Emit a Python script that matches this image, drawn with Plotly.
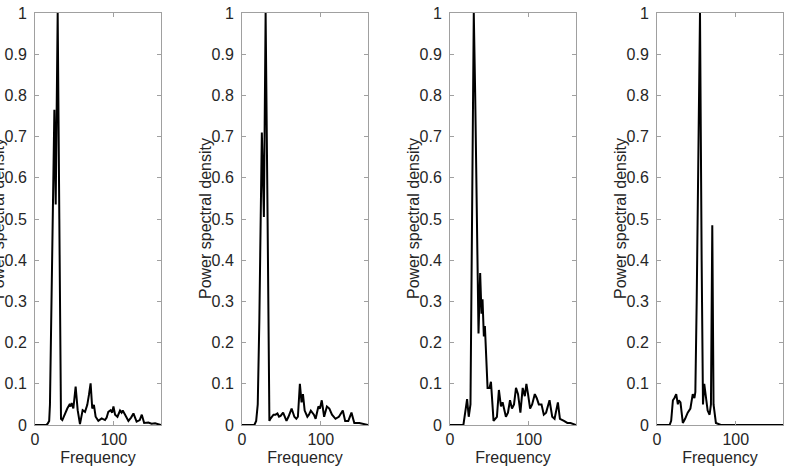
import plotly.graph_objects as go

# Frequency / normalised PSD
freq_a = [0, 14, 16, 18, 19, 21.2, 23.3, 24.6, 26.3, 28.8, 30.9, 33, 34.7, 36.5, 39.4, 41, 43.6,
          45, 46.5, 48.7, 51.6, 54.2, 57.1, 60.5, 63.5, 66.4, 68.5, 70.6, 72.7, 74.8, 77, 80.4,
          84.7, 88.9, 91, 93.1, 96.1, 98, 99.6, 101.7, 104.7, 108, 110, 111.4, 114.4, 118.6,
          122, 125, 129, 133, 135.6, 138.6, 144, 148, 152.5, 156, 160]
psd_a = [0, 0, 0.003, 0.01, 0.05, 0.3, 0.63, 0.765, 0.535, 1.0, 0.5, 0.015, 0.012, 0.02, 0.036,
         0.04, 0.049, 0.045, 0.053, 0.04, 0.093, 0.036, 0.002, 0.036, 0.032, 0.049, 0.073, 0.101,
         0.04, 0.049, 0.02, 0.01, 0.016, 0.012, 0.018, 0.032, 0.036, 0.03, 0.045, 0.025, 0.02,
         0.035, 0.03, 0.035, 0.025, 0.01, 0.018, 0.028, 0.008, 0.012, 0.025, 0.005, 0.006, 0.003,
         0.004, 0.002, 0]

freq_b = [0, 15.7, 18, 20, 22, 23.5, 25.2, 27.8, 30, 32.5, 34.8, 36, 38, 40, 42.6, 45, 47, 49,
          52.2, 54, 56.5, 59, 63, 66.5, 69, 71, 73.5, 75.6, 77.4, 79.6, 83, 85, 87.4, 91.3, 93.5,
          97, 99, 101.3, 104.3, 107.8, 110.9, 114.3, 118.7, 123, 128, 131, 135, 139, 142.6, 149,
          155.6, 160]
psd_b = [0, 0, 0.01, 0.05, 0.25, 0.5, 0.71, 0.505, 1.0, 0.5, 0.01, 0.015, 0.02, 0.025, 0.025,
         0.028, 0.02, 0.022, 0.03, 0.02, 0.01, 0.02, 0.04, 0.02, 0.015, 0.02, 0.1, 0.055, 0.075,
         0.035, 0.02, 0.025, 0.035, 0.025, 0.015, 0.045, 0.04, 0.06, 0.02, 0.045, 0.04, 0.025,
         0.015, 0.02, 0.035, 0.01, 0.01, 0.03, 0.005, 0.005, 0.003, 0]

freq_c = [0, 17, 20, 21.7, 23.8, 26, 28, 30.2, 32, 34, 36.2, 38.3, 40, 41.3, 43, 44.3, 46, 47.7,
          50.2, 52, 55.3, 57.4, 59.6, 62.1, 64.7, 66.8, 69, 71, 73.6, 76.2, 78.7, 81.3, 83.8,
          86.4, 89.4, 92.3, 95, 97, 99.1, 101.7, 104.3, 107.7, 110.2, 112.8, 116.2, 119.1, 122,
          126.4, 129.8, 132.8, 137, 139.6, 144.7, 149, 153, 160]
psd_c = [0, 0, 0.04, 0.063, 0.02, 0.05, 0.5, 1.0, 0.8, 0.5, 0.222, 0.369, 0.27, 0.305, 0.215,
         0.24, 0.17, 0.09, 0.09, 0.105, 0.01, 0.015, 0.02, 0.085, 0.045, 0.055, 0.04, 0.02, 0.03,
         0.06, 0.04, 0.05, 0.09, 0.075, 0.03, 0.09, 0.07, 0.1, 0.075, 0.04, 0.05, 0.075, 0.065,
         0.05, 0.05, 0.025, 0.03, 0.06, 0.02, 0.015, 0.055, 0.015, 0.01, 0.005, 0.005, 0]

freq_d = [0, 16, 18, 20.2, 22, 24.4, 26.5, 27.7, 29.8, 31.5, 32.8, 35.7, 39, 42.4, 45.4, 47.5,
          48.7, 50.4, 52.5, 54.6, 56.7, 58.4, 60, 62.2, 64.3, 66.8, 68.5, 70.2, 71.8, 74.8, 81,
          100, 130, 160]
psd_d = [0, 0, 0.01, 0.06, 0.065, 0.075, 0.05, 0.06, 0.055, 0.02, 0.005, 0.015, 0.03, 0.04,
         0.075, 0.065, 0.08, 0.3, 0.7, 1.0, 0.4, 0.05, 0.1, 0.06, 0.035, 0.025, 0.05, 0.485,
         0.05, 0.005, 0, 0, 0, 0]

panels = [(freq_a, psd_a), (freq_b, psd_b), (freq_c, psd_c), (freq_d, psd_d)]

y_ticks = [0, 0.1, 0.2, 0.3, 0.4, 0.5, 0.6, 0.7, 0.8, 0.9, 1]
y_labels = ["0", "0.1", "0.2", "0.3", "0.4", "0.5", "0.6", "0.7", "0.8", "0.9", "1"]
x_ticks = [0, 100]

W, H = 790, 474
left_px = [35, 242, 450, 657]
plot_w = 126
top_px, bottom_px = 13, 425

txt = "#262626"
axc = "#a0a0a0"
font = dict(family="Liberation Sans, Arial, sans-serif", size=16, color=txt)

fig = go.Figure()
layout = {}
notes = []
for i, (f, p) in enumerate(panels):
    n = "" if i == 0 else str(i + 1)
    fig.add_trace(go.Scatter(x=f, y=p, mode="lines", line=dict(color="black", width=2),
                             xaxis="x" + n, yaxis="y" + n, showlegend=False, hoverinfo="skip"))
    layout["xaxis" + n] = dict(
        domain=[left_px[i] / W, (left_px[i] + plot_w) / W], anchor="y" + n,
        range=[0, 160], tickvals=x_ticks, ticks="inside", ticklen=4, tickcolor=axc,
        showline=True, linecolor=axc, linewidth=1, mirror="ticks", showgrid=False,
        zeroline=False, tickfont=font, title=dict(text="Frequency", font=font, standoff=4),
        ticklabelstandoff=0, automargin=False,
    )
    layout["yaxis" + n] = dict(
        domain=[(H - bottom_px) / H, (H - top_px) / H], anchor="x" + n,
        range=[0, 1], tickvals=y_ticks, ticktext=y_labels, ticks="inside", ticklen=4,
        tickcolor=axc, showline=True, linecolor=axc, linewidth=1, mirror="ticks",
        showgrid=False, zeroline=False, tickfont=font,
        ticklabelstandoff=4, automargin=False,
    )
    # y title as a rotated label so it can sit where the original has it
    notes.append(dict(
        text="Power spectral density", textangle=-90, showarrow=False, font=font,
        xref="paper", yref="paper", x=(left_px[i] - 37) / W, xanchor="center",
        y=(H - (top_px + bottom_px) / 2) / H, yanchor="middle",
    ))

fig.update_layout(
    width=W, height=H, margin=dict(l=0, r=0, t=0, b=0),
    paper_bgcolor="white", plot_bgcolor="white", font=font, annotations=notes, **layout
)

# drop the page's default body margin so the figure sits at the window's corner
fig.write_html("out.html", config={"displayModeBar": False},
               post_script="document.body.style.margin='0';")
